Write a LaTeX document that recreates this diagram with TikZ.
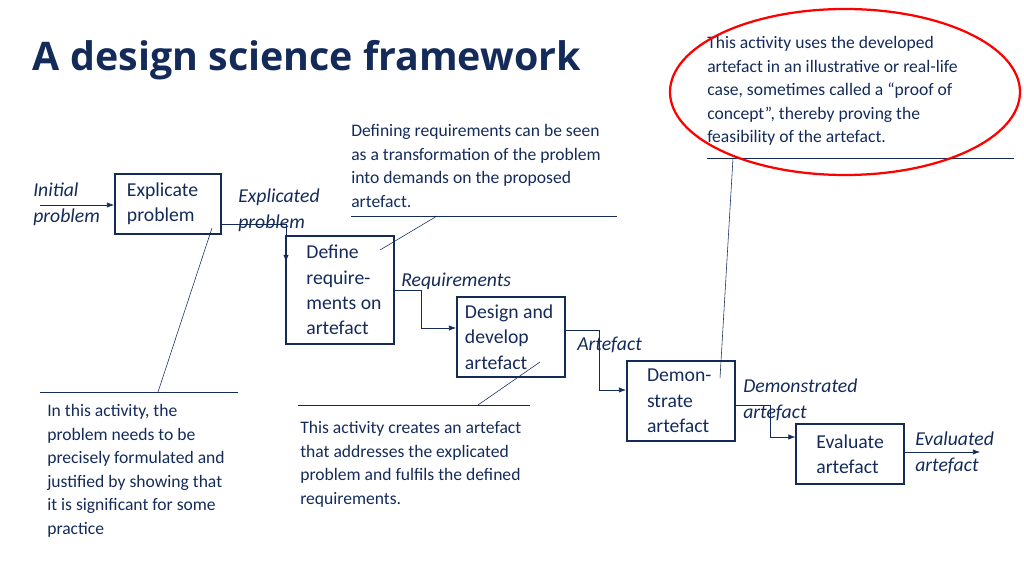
\documentclass[tikz,border=0pt]{standalone}
\usepackage{fontspec}
\setmainfont{Carlito}
\newfontfamily\titlefont{Open Sans}
\usetikzlibrary{arrows.meta,positioning}
\definecolor{navy}{HTML}{142B5A}
\begin{document}
\begin{tikzpicture}[x=0.025cm,y=-0.025cm,
  activity/.style={draw=navy, line width=1.4pt, align=left, font=\fontsize{14}{18}\selectfont,
    text=navy, inner sep=0pt},
  flow/.style={-{Latex[length=5pt]}, navy, thin},
  lbl/.style={font=\fontsize{14}{18}\selectfont\itshape, text=navy, align=left, anchor=north west, inner sep=0pt},
  note/.style={font=\fontsize{12.5}{16.8}\selectfont, text=navy, align=left, anchor=north west, inner sep=0pt},
  rule/.style={navy, thin},
]
  \useasboundingbox (0,0) rectangle (1024,576);
  \node[anchor=west, font=\titlefont\bfseries\fontsize{28}{32}\selectfont, text=navy]
    (title) at (28,60) {A design science framework};

  % activities
  \node[activity] (explicate) at (168,204)
    {\parbox[c][1.5cm][c]{2.65cm}{\hspace*{0.3cm}\parbox{2.2cm}{Explicate\\problem}}};
  \node[activity] (define) at (340,290)
    {\parbox[c][2.68cm][c]{2.68cm}{\hspace*{0.5cm}\parbox{2.1cm}{Define\\require-\\ments on\\artefact}}};
  \node[activity] (design) at (511,337)
    {\parbox[c][1.98cm][c]{2.7cm}{\hspace*{0.2cm}\parbox{2.4cm}{Design and\\develop\\artefact}}};
  \node[activity] (demo) at (681,401)
    {\parbox[c][1.98cm][c]{2.7cm}{\hspace*{0.5cm}\parbox{2.1cm}{Demon-\\strate\\artefact}}};
  \node[activity] (evaluate) at (850,454)
    {\parbox[c][1.52cm][c]{2.68cm}{\hspace*{0.5cm}\parbox{2.1cm}{Evaluate\\artefact}}};

  % flow labels
  \node[lbl] (initial) at (33,183) {Initial\\problem};
  \node[lbl] (explicated) at (238,189) {Explicated\\problem};
  \node[lbl] (req) at (401,273) {Requirements};
  \node[lbl] (art) at (577,337) {Artefact};
  \node[lbl] (demonstrated) at (743,379) {Demonstrated\\artefact};
  \node[lbl] (evaluated) at (915,432) {Evaluated\\artefact};

  \coordinate (in) at (40,205);
  \coordinate (out) at (980,452);
  \draw[flow] (in) -- (explicate.west |- in);
  \draw[flow] (explicate.east |- 0,224) -| (286,262);
  \draw[flow] (define.east |- 0,290) -| (421,328) -- (design.west |- 0,328);
  \draw[flow] (design.east |- 0,330) -| (599,390) -- (demo.west |- 0,390);
  \draw[flow] (demo.east |- 0,405) -| (770,437) -- (evaluate.west |- 0,437);
  \draw[flow] (evaluate.east |- out) -- (out);

  % callouts
  \node[note] (reqnote) at (351,124) {Defining requirements can be seen\\as a transformation of the problem\\into demands on the proposed\\artefact.};
  \draw[rule] (351,216) -- (617,216);
  \draw[rule] (437,216) -- (380,250);

  \node[note] (expnote) at (47,404) {In this activity, the\\problem needs to be\\precisely formulated and\\justified by showing that\\it is significant for some\\practice};
  \draw[rule] (40,392) -- (238,392);
  \draw[rule] (158,392) -- (212,228);

  \node[note] (designnote) at (300,421) {This activity creates an artefact\\that addresses the explicated\\problem and fulfils the defined\\requirements.};
  \draw[rule] (298,405) -- (530,405);
  \draw[rule] (478,405) -- (540,362);

  \node[note] (demonote) at (707,36) {This activity uses the developed\\artefact in an illustrative or real-life\\case, sometimes called a ``proof of\\concept'', thereby proving the\\feasibility of the artefact.};
  \draw[rule] (707,158) -- (1014,158);
  \draw[rule] (733,158) -- (720,378);
  \draw[red, line width=1.6pt] (845,92) ellipse [x radius=175, y radius=83];
\end{tikzpicture}
\end{document}
